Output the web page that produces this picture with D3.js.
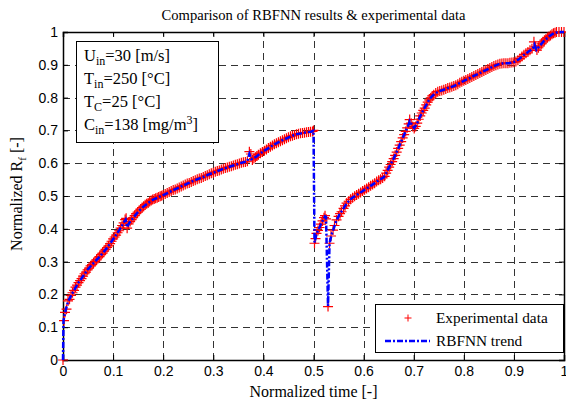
<!DOCTYPE html>
<html>
<head>
<meta charset="utf-8">
<script src="https://cdn.jsdelivr.net/npm/d3@7"></script>
<style>
  body { margin: 0; background: #fff; }
  svg { display: block; }
</style>
</head>
<body>
<div id="chart"></div>
<script>
// experimental data (normalized time, normalized Rf)
const expTime = [0.000,0.002,0.004,0.007,0.010,0.013,0.016,0.019,0.022,0.025,0.028,0.031,0.034,0.037,0.040,0.043,0.046,0.049,0.052,0.055,0.058,0.061,0.064,0.067,0.070,0.073,0.076,0.079,0.082,0.085,0.088,0.091,0.094,0.097,0.100,0.103,0.106,0.109,0.112,0.115,0.118,0.121,0.124,0.126,0.128,0.131,0.134,0.137,0.140,0.143,0.146,0.149,0.152,0.155,0.158,0.161,0.164,0.167,0.170,0.173,0.176,0.179,0.182,0.185,0.188,0.191,0.194,0.197,0.200,0.204,0.208,0.212,0.216,0.220,0.224,0.228,0.232,0.236,0.240,0.244,0.248,0.252,0.256,0.260,0.264,0.268,0.272,0.276,0.280,0.284,0.288,0.292,0.296,0.300,0.304,0.308,0.312,0.316,0.320,0.324,0.328,0.332,0.336,0.340,0.344,0.348,0.352,0.356,0.360,0.364,0.368,0.372,0.375,0.378,0.381,0.384,0.387,0.390,0.394,0.398,0.402,0.406,0.410,0.414,0.418,0.422,0.426,0.430,0.434,0.438,0.442,0.446,0.450,0.454,0.458,0.462,0.466,0.470,0.474,0.478,0.482,0.486,0.490,0.494,0.498,0.500,
  0.502,0.504,0.506,0.509,0.512,0.515,0.518,0.521,0.523,0.525,0.529,0.532,0.535,0.539,0.542,0.546,0.550,0.553,0.556,0.560,0.563,0.566,0.570,0.574,0.578,0.582,0.586,0.590,0.594,0.598,0.602,0.606,0.610,0.614,0.618,0.622,0.626,0.630,0.634,0.638,0.642,0.645,0.648,0.651,0.654,0.657,0.660,0.663,0.666,0.669,0.672,0.675,0.678,0.681,0.684,0.687,0.690,0.692,0.695,0.698,0.701,0.704,0.707,0.710,0.713,0.716,0.719,0.722,0.725,0.728,0.731,0.734,0.737,0.740,0.744,0.748,0.752,0.756,0.760,0.764,0.768,0.772,0.776,0.780,0.784,0.788,0.792,0.796,0.800,0.804,0.808,0.812,0.816,0.820,0.824,0.828,0.832,0.836,0.840,0.844,0.848,0.852,0.856,0.860,0.864,0.868,0.872,0.876,0.880,0.884,0.888,0.892,0.896,0.900,0.904,0.908,0.912,0.916,0.920,0.924,0.928,0.932,0.936,0.940,0.943,0.946,0.949,0.952,0.955,0.958,0.961,0.964,0.967,0.970,0.973,0.976,0.979,0.982,0.985,0.990,0.995,1.000];
const expValue = [0.000,0.120,0.145,0.155,0.180,0.185,0.197,0.205,0.212,0.222,0.228,0.236,0.242,0.248,0.256,0.263,0.268,0.275,0.280,0.287,0.291,0.296,0.300,0.305,0.311,0.315,0.321,0.326,0.332,0.337,0.343,0.348,0.355,0.362,0.369,0.375,0.381,0.388,0.394,0.402,0.410,0.418,0.428,0.432,0.402,0.415,0.422,0.428,0.434,0.440,0.446,0.451,0.455,0.460,0.465,0.469,0.473,0.476,0.479,0.483,0.486,0.489,0.491,0.493,0.495,0.497,0.499,0.501,0.503,0.506,0.509,0.512,0.515,0.518,0.520,0.523,0.526,0.529,0.532,0.535,0.538,0.540,0.543,0.546,0.548,0.551,0.553,0.555,0.558,0.561,0.563,0.566,0.569,0.571,0.574,0.576,0.578,0.581,0.583,0.585,0.587,0.589,0.591,0.593,0.595,0.597,0.599,0.601,0.603,0.604,0.606,0.635,0.628,0.610,0.614,0.618,0.622,0.626,0.630,0.634,0.638,0.642,0.646,0.650,0.654,0.658,0.661,0.664,0.667,0.670,0.673,0.676,0.679,0.682,0.684,0.686,0.688,0.690,0.691,0.692,0.693,0.694,0.695,0.696,0.697,0.700,
  0.356,0.370,0.386,0.395,0.404,0.414,0.424,0.434,0.440,0.430,0.163,0.356,0.378,0.396,0.410,0.427,0.438,0.446,0.452,0.462,0.470,0.478,0.484,0.490,0.495,0.499,0.503,0.507,0.511,0.515,0.519,0.523,0.527,0.531,0.535,0.539,0.544,0.548,0.551,0.555,0.560,0.570,0.578,0.588,0.596,0.605,0.614,0.624,0.634,0.645,0.655,0.666,0.677,0.687,0.697,0.708,0.720,0.733,0.722,0.712,0.706,0.712,0.722,0.734,0.744,0.753,0.761,0.768,0.778,0.786,0.793,0.799,0.805,0.809,0.814,0.818,0.820,0.822,0.824,0.826,0.829,0.831,0.833,0.835,0.838,0.841,0.845,0.848,0.851,0.854,0.857,0.860,0.863,0.866,0.869,0.872,0.875,0.878,0.881,0.884,0.887,0.890,0.893,0.896,0.899,0.901,0.903,0.904,0.905,0.905,0.905,0.906,0.907,0.908,0.910,0.914,0.919,0.925,0.931,0.935,0.939,0.944,0.949,0.970,0.955,0.945,0.952,0.958,0.964,0.970,0.975,0.979,0.983,0.986,0.989,0.993,0.996,0.998,1.000,1.000,1.000,1.000];

// RBFNN trend
const trendTime = [0.000,0.001,0.005,0.010,0.020,0.030,0.040,0.050,0.060,0.070,0.080,0.090,0.100,0.110,0.120,0.125,0.128,0.132,0.140,0.150,0.160,0.170,0.180,0.190,0.200,0.210,0.220,0.230,0.240,0.250,0.260,0.270,0.280,0.290,0.300,0.310,0.320,0.330,0.340,0.350,0.360,0.368,0.372,0.376,0.385,0.395,0.405,0.415,0.425,0.435,0.445,0.455,0.465,0.475,0.485,0.495,0.500,
  0.502,0.506,0.512,0.518,0.523,0.525,0.529,0.532,0.536,0.540,0.546,0.552,0.558,0.566,0.574,0.582,0.590,0.600,0.610,0.620,0.630,0.640,0.645,0.650,0.655,0.660,0.665,0.670,0.675,0.680,0.685,0.690,0.692,0.696,0.701,0.706,0.712,0.718,0.724,0.730,0.736,0.742,0.750,0.760,0.770,0.780,0.790,0.800,0.810,0.820,0.830,0.840,0.850,0.860,0.870,0.880,0.890,0.900,0.910,0.920,0.930,0.938,0.941,0.945,0.950,0.960,0.970,0.980,0.990,1.000];
const trendValue = [0.000,0.120,0.150,0.178,0.207,0.234,0.255,0.277,0.294,0.310,0.327,0.346,0.368,0.390,0.416,0.428,0.405,0.418,0.433,0.452,0.467,0.479,0.489,0.496,0.503,0.510,0.518,0.525,0.532,0.539,0.546,0.552,0.558,0.565,0.571,0.577,0.583,0.588,0.593,0.598,0.603,0.606,0.628,0.612,0.619,0.631,0.641,0.651,0.660,0.668,0.675,0.682,0.688,0.691,0.694,0.696,0.699,
  0.358,0.385,0.404,0.424,0.438,0.436,0.165,0.355,0.382,0.400,0.426,0.444,0.457,0.477,0.490,0.499,0.507,0.517,0.527,0.537,0.548,0.557,0.570,0.585,0.600,0.614,0.631,0.648,0.666,0.684,0.701,0.718,0.728,0.718,0.707,0.719,0.740,0.758,0.775,0.791,0.803,0.812,0.819,0.824,0.830,0.835,0.843,0.851,0.858,0.866,0.873,0.881,0.888,0.896,0.902,0.905,0.905,0.908,0.917,0.930,0.941,0.950,0.962,0.946,0.955,0.973,0.986,0.997,1.000,1.000];

const xTicks = [0,0.1,0.2,0.3,0.4,0.5,0.6,0.7,0.8,0.9,1];
const yTicks = [0,0.1,0.2,0.3,0.4,0.5,0.6,0.7,0.8,0.9,1];
const infoLines = [
  {base: "U", sub: "in", rest: "=30 [m/s]"},
  {base: "T", sub: "in", rest: "=250 [°C]"},
  {base: "T", sub: "C", rest: "=25 [°C]"},
  {base: "C", sub: "in", rest: "=138 [mg/m", sup: "3", end: "]"}
];

const W = 566, H = 406;
const pL = 63, pR = 564, pT = 32, pB = 360;
const serif = "'Liberation Serif', 'Times New Roman', serif";
const sans = "'Liberation Sans', Arial, sans-serif";

const svg = d3.select("#chart").append("svg")
  .attr("width", W).attr("height", H);

const x = d3.scaleLinear().domain([0, 1]).range([pL, pR]);
const y = d3.scaleLinear().domain([0, 1]).range([pB, pT]);

// grid
const grid = svg.append("g").attr("stroke", "#333").attr("stroke-width", 1)
  .attr("stroke-dasharray", "7,5");
grid.selectAll(".gx").data(xTicks.slice(1, -1)).enter().append("line")
  .attr("x1", d => Math.round(x(d)) + 0.5).attr("x2", d => Math.round(x(d)) + 0.5)
  .attr("y1", pB).attr("y2", pT);
grid.selectAll(".gy").data(yTicks.slice(1, -1)).enter().append("line")
  .attr("y1", d => Math.round(y(d)) + 0.5).attr("y2", d => Math.round(y(d)) + 0.5)
  .attr("x1", pL).attr("x2", pR);

// axes, ticks inward on all four sides
const fmt = d => d3.format("")(d);
const axB = svg.append("g").attr("transform", `translate(0,${pB})`)
  .call(d3.axisBottom(x).tickValues(xTicks).tickSize(-5).tickPadding(6).tickFormat(fmt));
const axL = svg.append("g").attr("transform", `translate(${pL},0)`)
  .call(d3.axisLeft(y).tickValues(yTicks).tickSize(-5).tickPadding(5).tickFormat(fmt));
const axT = svg.append("g").attr("transform", `translate(0,${pT})`)
  .call(d3.axisTop(x).tickValues(xTicks).tickSize(-5).tickFormat(""));
const axR = svg.append("g").attr("transform", `translate(${pR},0)`)
  .call(d3.axisRight(y).tickValues(yTicks).tickSize(-5).tickFormat(""));
[axB, axL, axT, axR].forEach(a => {
  a.select(".domain").attr("stroke", "#000").attr("stroke-width", 1.5);
  a.selectAll(".tick line").attr("stroke", "#000");
  a.selectAll("text").attr("font-family", sans).attr("font-size", 14).attr("fill", "#000");
});

// experimental markers
const expData = expTime.map((t, i) => [t, expValue[i]]);
svg.append("g").selectAll("path").data(expData).enter().append("path")
  .attr("d", d => `M${x(d[0]) - 5},${y(d[1])}h10M${x(d[0])},${y(d[1]) - 5}v10`)
  .attr("stroke", "#ff0000").attr("stroke-width", 1.2).attr("fill", "none");

// RBFNN trend line
const trendData = trendTime.map((t, i) => [t, trendValue[i]]);
svg.append("path").datum(trendData)
  .attr("d", d3.line().x(d => x(d[0])).y(d => y(d[1])))
  .attr("fill", "none").attr("stroke", "#0000ff").attr("stroke-width", 2.5)
  .attr("stroke-dasharray", "6,2,2,2");

// title and axis labels
svg.append("text").attr("x", (pL + pR) / 2).attr("y", 20)
  .attr("text-anchor", "middle").attr("font-family", serif).attr("font-size", 14.6)
  .text("Comparison of RBFNN results & experimental data");
svg.append("text").attr("x", (pL + pR) / 2).attr("y", 397)
  .attr("text-anchor", "middle").attr("font-family", serif).attr("font-size", 16)
  .text("Normalized time [-]");
const yl = svg.append("text").attr("transform", `translate(22,${(pT + pB) / 2 - 2}) rotate(-90)`)
  .attr("text-anchor", "middle").attr("font-family", serif).attr("font-size", 16);
yl.append("tspan").text("Normalized R");
yl.append("tspan").attr("font-size", 11).attr("dy", 4).text("f");
yl.append("tspan").attr("dy", -4).text(" [-]");

// info box
svg.append("rect").attr("x", 76.5).attr("y", 41.5).attr("width", 142).attr("height", 101)
  .attr("fill", "#fff").attr("stroke", "#000").attr("stroke-width", 1);
infoLines.forEach((l, i) => {
  const t = svg.append("text").attr("x", 84).attr("y", 61 + i * 23)
    .attr("font-family", serif).attr("font-size", 16.5);
  t.append("tspan").text(l.base);
  t.append("tspan").attr("font-size", 12).attr("dy", 4).text(l.sub);
  t.append("tspan").attr("dy", -4).text(l.rest);
  if (l.sup) {
    t.append("tspan").attr("font-size", 12).attr("dy", -6).text(l.sup);
    t.append("tspan").attr("dy", 6).text(l.end);
  }
});

// legend
const lg = svg.append("g");
lg.append("rect").attr("x", 375.5).attr("y", 304.5).attr("width", 188).attr("height", 48)
  .attr("fill", "#fff").attr("stroke", "#000").attr("stroke-width", 1);
lg.append("path").attr("d", "M404.5,318h7M408,314.5v7")
  .attr("stroke", "#ff0000").attr("stroke-width", 1);
lg.append("text").attr("x", 436).attr("y", 323).attr("font-family", serif).attr("font-size", 15.3)
  .text("Experimental data");
lg.append("line").attr("x1", 385).attr("x2", 430).attr("y1", 341).attr("y2", 341)
  .attr("stroke", "#0000ff").attr("stroke-width", 2.5).attr("stroke-dasharray", "6,2,2,2");
lg.append("text").attr("x", 436).attr("y", 346).attr("font-family", serif).attr("font-size", 15.3)
  .text("RBFNN trend");
</script>
</body>
</html>
